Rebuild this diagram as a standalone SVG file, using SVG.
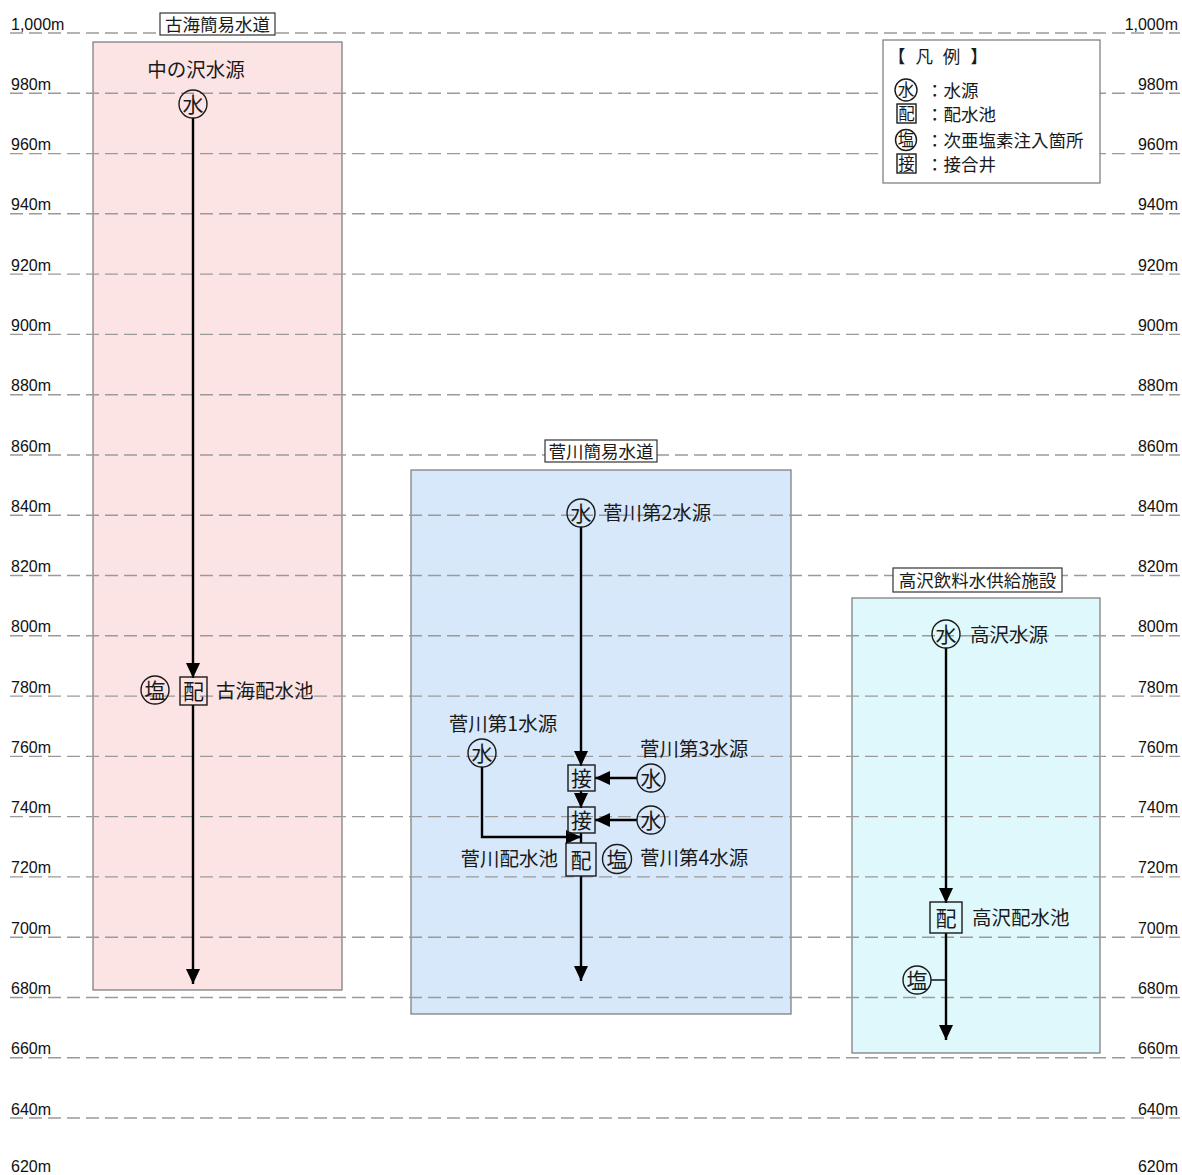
<svg xmlns="http://www.w3.org/2000/svg" width="1182" height="1175" viewBox="0 0 1182 1175">
<defs>
<style>
.grid{stroke:#9a9a9a;stroke-width:1.4;stroke-dasharray:13 6;fill:none}
.ax{font-family:"Liberation Sans","Noto Sans CJK JP",sans-serif;font-size:16px;fill:#111}
.axr{font-family:"Liberation Sans","Noto Sans CJK JP",sans-serif;font-size:16px;fill:#111;text-anchor:end}
.lbl{font-family:"Noto Sans CJK JP",sans-serif;font-size:19.5px;fill:#1a1a1a}
.ttl{font-family:"Noto Sans CJK JP",sans-serif;font-size:17.5px;fill:#1a1a1a;text-anchor:middle}
.tbox{fill:#fff;stroke:#333;stroke-width:1.2}
.sym{fill:none;stroke:#1a1a1a;stroke-width:1.4}
.symt{font-family:"Noto Sans CJK JP",sans-serif;font-size:21px;fill:#1a1a1a;text-anchor:middle}
.pipe{stroke:#000;stroke-width:2.4;fill:none}
.leg{font-family:"Noto Sans CJK JP",sans-serif;font-size:17.5px;fill:#1a1a1a}
.legs{font-family:"Noto Sans CJK JP",sans-serif;font-size:16.5px;fill:#1a1a1a;text-anchor:middle}
</style>
<marker id="ah" viewBox="0 0 15 14" refX="15" refY="7" markerWidth="15" markerHeight="14" markerUnits="userSpaceOnUse" orient="auto">
<path d="M0,0 L15,7 L0,14 z" fill="#000"/>
</marker>
</defs>
<rect width="1182" height="1175" fill="#fff"/>

<!-- areas -->
<rect x="93" y="42" width="249" height="948" fill="#fde4e4" stroke="#777" stroke-width="1.2"/>
<rect x="411" y="470" width="380" height="544" fill="#d7e8fb" stroke="#777" stroke-width="1.2"/>
<rect x="852" y="598" width="248" height="455" fill="#dff8fc" stroke="#777" stroke-width="1.2"/>

<!-- grid -->
<g id="grid">
<line class="grid" x1="10" y1="33" x2="1180" y2="33"/>
<line class="grid" x1="10" y1="93.3" x2="1180" y2="93.3"/>
<line class="grid" x1="10" y1="153.6" x2="1180" y2="153.6"/>
<line class="grid" x1="10" y1="213.8" x2="1180" y2="213.8"/>
<line class="grid" x1="10" y1="274.1" x2="1180" y2="274.1"/>
<line class="grid" x1="10" y1="334.4" x2="1180" y2="334.4"/>
<line class="grid" x1="10" y1="394.7" x2="1180" y2="394.7"/>
<line class="grid" x1="10" y1="455" x2="1180" y2="455"/>
<line class="grid" x1="10" y1="515.2" x2="1180" y2="515.2"/>
<line class="grid" x1="10" y1="575.5" x2="1180" y2="575.5"/>
<line class="grid" x1="10" y1="635.8" x2="1180" y2="635.8"/>
<line class="grid" x1="10" y1="696.1" x2="1180" y2="696.1"/>
<line class="grid" x1="10" y1="756.4" x2="1180" y2="756.4"/>
<line class="grid" x1="10" y1="816.6" x2="1180" y2="816.6"/>
<line class="grid" x1="10" y1="876.9" x2="1180" y2="876.9"/>
<line class="grid" x1="10" y1="937.2" x2="1180" y2="937.2"/>
<line class="grid" x1="10" y1="997.5" x2="1180" y2="997.5"/>
<line class="grid" x1="10" y1="1057.8" x2="1180" y2="1057.8"/>
<line class="grid" x1="10" y1="1118" x2="1180" y2="1118"/>
</g>
<g id="axis">
<text class="ax" x="11" y="30">1,000m</text><text class="axr" x="1178" y="30">1,000m</text>
<text class="ax" x="11" y="90">980m</text><text class="axr" x="1178" y="90">980m</text>
<text class="ax" x="11" y="150">960m</text><text class="axr" x="1178" y="150">960m</text>
<text class="ax" x="11" y="210">940m</text><text class="axr" x="1178" y="210">940m</text>
<text class="ax" x="11" y="271">920m</text><text class="axr" x="1178" y="271">920m</text>
<text class="ax" x="11" y="331">900m</text><text class="axr" x="1178" y="331">900m</text>
<text class="ax" x="11" y="391">880m</text><text class="axr" x="1178" y="391">880m</text>
<text class="ax" x="11" y="452">860m</text><text class="axr" x="1178" y="452">860m</text>
<text class="ax" x="11" y="512">840m</text><text class="axr" x="1178" y="512">840m</text>
<text class="ax" x="11" y="572">820m</text><text class="axr" x="1178" y="572">820m</text>
<text class="ax" x="11" y="632">800m</text><text class="axr" x="1178" y="632">800m</text>
<text class="ax" x="11" y="693">780m</text><text class="axr" x="1178" y="693">780m</text>
<text class="ax" x="11" y="753">760m</text><text class="axr" x="1178" y="753">760m</text>
<text class="ax" x="11" y="813">740m</text><text class="axr" x="1178" y="813">740m</text>
<text class="ax" x="11" y="873">720m</text><text class="axr" x="1178" y="873">720m</text>
<text class="ax" x="11" y="934">700m</text><text class="axr" x="1178" y="934">700m</text>
<text class="ax" x="11" y="994">680m</text><text class="axr" x="1178" y="994">680m</text>
<text class="ax" x="11" y="1054">660m</text><text class="axr" x="1178" y="1054">660m</text>
<text class="ax" x="11" y="1115">640m</text><text class="axr" x="1178" y="1115">640m</text>
<text class="ax" x="11" y="1172">620m</text><text class="axr" x="1178" y="1172">620m</text>
</g>

<!-- titles -->
<g id="title-kokai"><rect class="tbox" x="160" y="13" width="115" height="22"/><text class="ttl" x="217.5" y="30.5">古海簡易水道</text></g>
<g id="title-sugawa"><rect class="tbox" x="545" y="440" width="112" height="22"/><text class="ttl" x="601" y="457.5">菅川簡易水道</text></g>
<g id="title-takasawa"><rect class="tbox" x="893" y="568" width="169" height="24"/><text class="ttl" x="977.5" y="586.5">高沢飲料水供給施設</text></g>

<!-- legend -->
<g id="legend">
<rect x="883" y="40" width="217" height="143" fill="#fff" stroke="#777" stroke-width="1.2"/>
<text class="leg" x="888" y="63" font-size="15" letter-spacing="3">【 凡 例 】</text>
<circle class="sym" cx="906" cy="90" r="11"/><text class="legs" x="906" y="96">水</text><text class="leg" x="926" y="97">：水源</text>
<rect class="sym" x="897" y="104" width="19" height="19"/><text class="legs" x="906.5" y="119.5">配</text><text class="leg" x="926" y="121">：配水池</text>
<circle class="sym" cx="906" cy="140" r="10.5"/><text class="legs" x="906" y="145.5" font-size="15.5">塩</text><text class="leg" x="926" y="147">：次亜塩素注入箇所</text>
<rect class="sym" x="897" y="154" width="19" height="19"/><text class="legs" x="906.5" y="169.5" font-size="15.5">接</text><text class="leg" x="926" y="171">：接合井</text>
</g>

<!-- connectors -->
<g id="connectors">
<line class="pipe" x1="193" y1="118" x2="193" y2="678" marker-end="url(#ah)"/>
<line class="pipe" x1="193" y1="705" x2="193" y2="984" marker-end="url(#ah)"/>
<line class="pipe" x1="581" y1="527" x2="581" y2="766" marker-end="url(#ah)"/>
<line class="pipe" x1="581" y1="791" x2="581" y2="808" marker-end="url(#ah)"/>
<line class="pipe" x1="637" y1="778" x2="595" y2="778" marker-end="url(#ah)"/>
<line class="pipe" x1="637" y1="820" x2="595" y2="820" marker-end="url(#ah)"/>
<line class="pipe" x1="581" y1="833" x2="581" y2="843"/>
<polyline class="pipe" points="482,767 482,837 581,837" marker-end="url(#ah)"/>
<line class="pipe" x1="581" y1="876" x2="581" y2="981" marker-end="url(#ah)"/>
<line class="pipe" x1="946" y1="648" x2="946" y2="903" marker-end="url(#ah)"/>
<line class="pipe" x1="946" y1="933" x2="946" y2="1040" marker-end="url(#ah)"/>
<line x1="931" y1="980" x2="946" y2="980" stroke="#000" stroke-width="1.4"/>
</g>

<!-- Kokai nodes -->
<g id="n-nakanosawa"><text class="lbl" x="196" y="77" text-anchor="middle" font-size="20.5">中の沢水源</text><circle class="sym" cx="193" cy="104" r="14"/><text class="symt" x="193" y="111.5">水</text></g>
<g id="n-kokai-res"><rect class="sym" x="180" y="677" width="27" height="28"/><text class="symt" x="193.5" y="699" font-size="22">配</text>
<circle class="sym" cx="155" cy="690" r="14"/><text class="symt" x="155" y="697.5">塩</text>
<text class="lbl" x="216" y="698" font-size="20.5">古海配水池</text></g>

<!-- Sugawa nodes -->
<g id="n-sugawa2"><circle class="sym" cx="581" cy="513" r="14"/><text class="symt" x="581" y="520.5">水</text><text class="lbl" x="603" y="520">菅川第2水源</text></g>
<g id="n-sugawa1"><text class="lbl" x="503" y="731" text-anchor="middle">菅川第1水源</text><circle class="sym" cx="482" cy="753" r="14"/><text class="symt" x="482" y="760.5">水</text></g>
<g id="n-setsugo1"><rect class="sym" x="568" y="765" width="27" height="26"/><text class="symt" x="581.5" y="785.5" font-size="20">接</text></g>
<g id="n-sugawa3"><text class="lbl" x="640" y="756">菅川第3水源</text><circle class="sym" cx="651" cy="778" r="14"/><text class="symt" x="651" y="785.5">水</text></g>
<g id="n-setsugo2"><rect class="sym" x="568" y="807" width="27" height="26"/><text class="symt" x="581.5" y="827.5" font-size="20">接</text></g>
<g id="n-sugawa4"><circle class="sym" cx="651" cy="820" r="14"/><text class="symt" x="651" y="827.5">水</text><text class="lbl" x="640" y="865">菅川第4水源</text></g>
<g id="n-sugawa-res"><rect class="sym" x="566" y="843" width="30" height="33"/><text class="symt" x="581" y="868" font-size="24">配</text>
<circle class="sym" cx="617" cy="859" r="14.5"/><text class="symt" x="617" y="866.5">塩</text>
<text class="lbl" x="558" y="866" text-anchor="end" font-size="20">菅川配水池</text></g>

<!-- Takasawa nodes -->
<g id="n-takasawa"><circle class="sym" cx="946" cy="634" r="14"/><text class="symt" x="946" y="641.5">水</text><text class="lbl" x="970" y="642" font-size="20.5">高沢水源</text></g>
<g id="n-takasawa-res"><rect class="sym" x="930" y="902" width="32" height="31"/><text class="symt" x="946" y="926" font-size="24">配</text><text class="lbl" x="972" y="925" font-size="20.5">高沢配水池</text></g>
<g id="n-takasawa-cl"><circle class="sym" cx="917" cy="980" r="14"/><text class="symt" x="917" y="987.5">塩</text></g>
</svg>
